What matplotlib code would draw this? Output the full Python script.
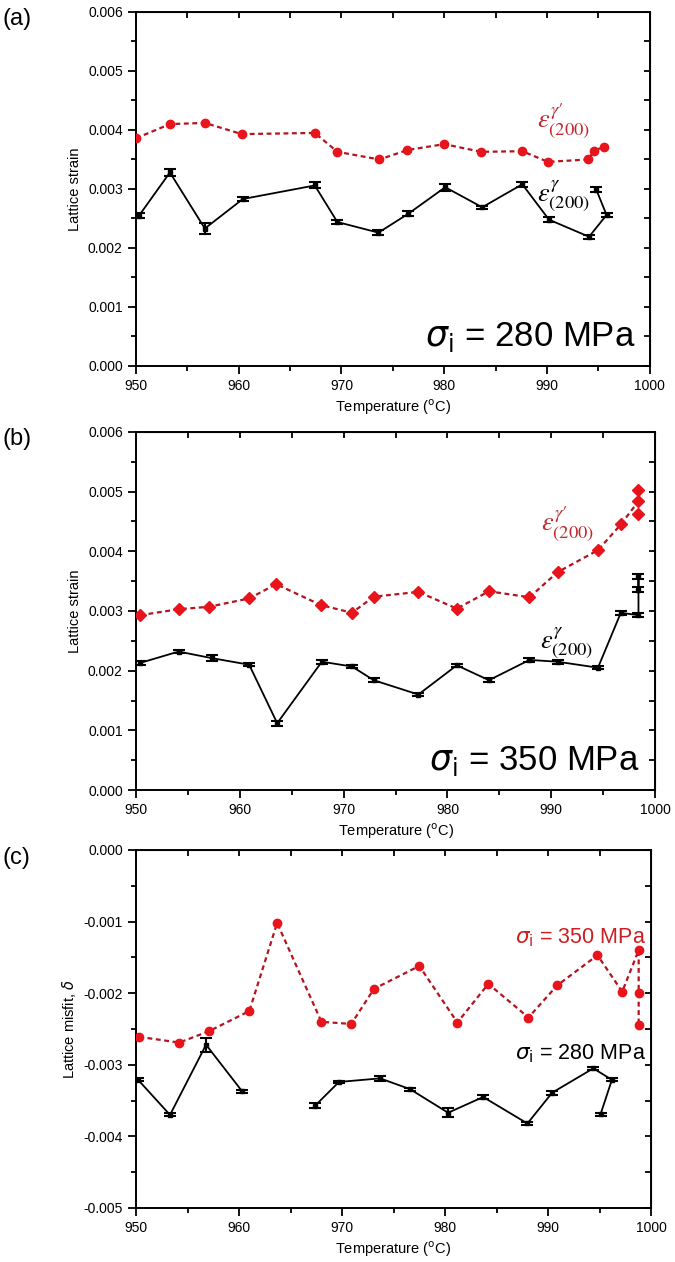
import numpy as np
import matplotlib
matplotlib.use("Agg")
import matplotlib.pyplot as plt
from matplotlib.ticker import MultipleLocator

plt.rcParams['font.family'] = ['Liberation Sans', 'DejaVu Sans']

# panel (a) - sigma_i = 280 MPa
a_T_gp = [950.0, 953.3, 956.7, 960.3, 967.4, 969.6, 973.7, 976.4, 980.0, 983.6, 987.6, 990.1, 994.0, 994.6, 995.6]
a_gp = [0.00386, 0.00410, 0.00412, 0.00393, 0.00395, 0.00363, 0.00350, 0.00366, 0.00376, 0.00363, 0.00364, 0.00346, 0.00350, 0.00365, 0.00372]
a_T_g = [950.3, 953.3, 956.7, 960.4, 967.4, 969.6, 973.6, 976.5, 980.1, 983.7, 987.6, 990.2, 994.1, 995.8, 994.8]
a_g = [0.00255, 0.00328, 0.00233, 0.00283, 0.00306, 0.00244, 0.00226, 0.00258, 0.00303, 0.00269, 0.00308, 0.00248, 0.00219, 0.00256, 0.00299]
a_g_err = [0.00004, 0.00006, 0.00010, 0.00004, 0.00005, 0.00004, 0.00004, 0.00004, 0.00006, 0.00003, 0.00004, 0.00004, 0.00003, 0.00004, 0.00004]

# panel (b) - sigma_i = 350 MPa
b_T_gp = [950.4, 954.1, 957.0, 960.9, 963.5, 967.8, 970.8, 972.9, 977.2, 980.9, 984.0, 987.9, 990.6, 994.5, 996.7, 998.4, 998.4, 998.4]
b_gp = [0.00293, 0.00303, 0.00307, 0.00321, 0.00345, 0.00310, 0.00297, 0.00324, 0.00332, 0.00304, 0.00333, 0.00323, 0.00365, 0.00402, 0.00445, 0.00484, 0.00502, 0.00462]
b_T_g = [950.4, 954.1, 957.3, 960.9, 963.6, 967.9, 970.8, 972.9, 977.2, 980.9, 984.0, 987.9, 990.6, 994.5, 996.7, 998.4, 998.4, 998.4]
b_g = [0.00213, 0.00232, 0.00221, 0.00210, 0.00112, 0.00215, 0.00207, 0.00184, 0.00160, 0.00209, 0.00184, 0.00218, 0.00215, 0.00205, 0.00297, 0.00293, 0.00358, 0.00336]
b_g_err = [0.00003, 0.00003, 0.00005, 0.00003, 0.00004, 0.00003, 0.00003, 0.00003, 0.00003, 0.00003, 0.00003, 0.00003, 0.00003, 0.00003, 0.00003, 0.00003, 0.00004, 0.00004]

# panel (c) - lattice misfit
c_T_350 = [950.3, 954.2, 957.1, 961.0, 963.7, 968.0, 970.9, 973.1, 977.5, 981.2, 984.2, 988.1, 990.9, 994.8, 997.2, 998.8, 998.8, 998.8]
c_350 = [-0.00261, -0.00269, -0.00253, -0.00225, -0.00102, -0.00240, -0.00243, -0.00194, -0.00162, -0.00241, -0.00187, -0.00234, -0.00189, -0.00147, -0.00198, -0.00140, -0.00200, -0.00244]
c_T_280 = [950.2, 953.3, 956.8, 960.3, np.nan, 967.4, 969.7, 973.7, 976.6, 980.3, 983.7, 988.0, 990.4, 994.4, 996.2, 995.1]
c_280 = [-0.00321, -0.00370, -0.00272, -0.00337, np.nan, -0.00357, -0.00324, -0.00319, -0.00334, -0.00367, -0.00345, -0.00382, -0.00339, -0.00305, -0.00321, -0.00369]
c_280_err = [0.00002, 0.00002, 0.00010, 0.00002, np.nan, 0.00004, 0.00002, 0.00003, 0.00002, 0.00006, 0.00003, 0.00002, 0.00003, 0.00002, 0.00002, 0.00002]

RED = '#e8141b'
DRED = '#b3141e'


def style_axes(ax, ylim, ylabel):
    ax.set_xlim(950, 1000)
    ax.set_ylim(*ylim)
    ax.xaxis.set_major_locator(MultipleLocator(10))
    ax.xaxis.set_minor_locator(MultipleLocator(5))
    ax.yaxis.set_major_locator(MultipleLocator(0.001))
    ax.yaxis.set_minor_locator(MultipleLocator(0.0005))
    ax.yaxis.set_major_formatter(lambda v, p: '%.3f' % v if abs(v) > 1e-9 else '0.000')
    ax.tick_params(which='major', direction='out', length=6, width=1.3, labelsize=10)
    ax.tick_params(which='minor', direction='out', length=3.5, width=1.3)
    for s in ax.spines.values():
        s.set_linewidth(1.4)
    top = ax.secondary_xaxis('top')
    top.xaxis.set_major_locator(MultipleLocator(5))
    top.tick_params(direction='in', length=4, width=1.3, labeltop=False)
    right = ax.secondary_yaxis('right')
    right.yaxis.set_major_locator(MultipleLocator(0.0005))
    right.tick_params(direction='in', length=4, width=1.3, labelright=False)
    ax.set_xlabel(r'Temperature ($^{\mathrm{o}}$C)', fontsize=10.5, labelpad=3)
    ax.set_ylabel(ylabel, fontsize=10.5, labelpad=4)


def plot_red(ax, T, v, marker='o'):
    ax.plot(T, v, ls=(0, (2.2, 1.6)), lw=1.6, color=DRED, marker=marker,
            ms=6, mfc=RED, mec=RED, zorder=3)


def plot_black(ax, T, v, err):
    ax.errorbar(T, v, yerr=err, color='k', lw=1.3, elinewidth=1.5,
                capsize=4.5, capthick=1.5, marker='s', ms=3, zorder=4)


fig = plt.figure(figsize=(6.75, 12.62), dpi=100)

# (a)
ax1 = fig.add_axes([0.2015, 0.710, 0.761, 0.2805])
plot_red(ax1, a_T_gp, a_gp)
plot_black(ax1, a_T_g, a_g, a_g_err)
style_axes(ax1, (0, 0.006), 'Lattice strain')
ax1.text(989.0, 0.00416, r'$\varepsilon^{\gamma\prime}_{(200)}$', color='#c0282d',
         fontsize=19, math_fontfamily='stix', ha='left', va='center')
ax1.text(989.0, 0.00288, r'$\varepsilon^{\gamma}_{(200)}$', color='k',
         fontsize=19, math_fontfamily='stix', ha='left', va='center')
ax1.text(998.6, 0.0002, r'$\sigma_\mathrm{i}$ = 280 MPa', fontsize=25, ha='right', va='bottom')

# (b)
ax2 = fig.add_axes([0.2015, 0.374, 0.769, 0.2837])
plot_red(ax2, b_T_gp, b_gp, marker='D')
plot_black(ax2, b_T_g, b_g, b_g_err)
style_axes(ax2, (0, 0.006), 'Lattice strain')
ax2.text(989.0, 0.00447, r'$\varepsilon^{\gamma\prime}_{(200)}$', color='#c0282d',
         fontsize=19, math_fontfamily='stix', ha='left', va='center')
ax2.text(988.9, 0.00246, r'$\varepsilon^{\gamma}_{(200)}$', color='k',
         fontsize=19, math_fontfamily='stix', ha='left', va='center')
ax2.text(998.5, 0.0002, r'$\sigma_\mathrm{i}$ = 350 MPa', fontsize=25, ha='right', va='bottom')

# (c)
ax3 = fig.add_axes([0.2015, 0.0428, 0.763, 0.2837])
plot_red(ax3, c_T_350, c_350)
plot_black(ax3, c_T_280, c_280, c_280_err)
style_axes(ax3, (-0.005, 0), r'Lattice misfit, $\delta$')
ax3.text(999.5, -0.00122, r'$\sigma_\mathrm{i}$ = 350 MPa', color='#cc1f24', fontsize=15.5,
         ha='right', va='center')
ax3.text(999.5, -0.00285, r'$\sigma_\mathrm{i}$ = 280 MPa', color='k', fontsize=15.5,
         ha='right', va='center')

fig.text(0.003, 0.985, '(a)', fontsize=17, va='center', ha='left')
fig.text(0.003, 0.652, '(b)', fontsize=17, va='center', ha='left')
fig.text(0.003, 0.320, '(c)', fontsize=17, va='center', ha='left')

fig.savefig('out.png', dpi=100)
